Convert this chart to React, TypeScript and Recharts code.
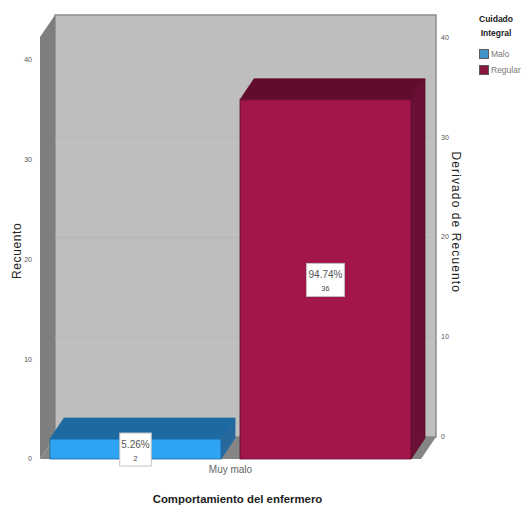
import { Bar, ComposedChart, LabelList, Legend, Line, ReferenceArea, XAxis, YAxis } from "recharts";

const categories = ["Muy malo"];
const maloCounts = [2];
const regularCounts = [36];
const maloPercents = ["5.26%"];
const regularPercents = ["94.74%"];
const axisTicks = [0, 10, 20, 30, 40];
const gridValues = [10, 20, 30];

const chartData = categories.map((name, i) => ({
  name,
  Malo: maloCounts[i],
  Regular: regularCounts[i],
}));

// Upper end of the value axis, where the side wall stops
const AXIS_MAX = 42.3;

// Depth of the fake 3D projection
const WALL_DX = 15;
const WALL_DY = 22;
const BAR_DX = 14;
const BAR_DY = 21;

const FONT = '"Liberation Sans", Arial, sans-serif';

const pts = (list: number[][]) => list.map((p) => p.join(",")).join(" ");

const Walls = ({ x, y, width, height }: any) => {
  const b = y + height;
  const r = x + width;
  return (
    <g>
      <rect x={x + WALL_DX} y={y - WALL_DY} width={width} height={height} fill="#bebebe" stroke="#8c8c8c" strokeWidth={1.5} />
      {gridValues.map((v) => {
        const gy = b - (v / AXIS_MAX) * height - WALL_DY;
        return <line key={v} x1={x + WALL_DX} x2={r + WALL_DX} y1={gy} y2={gy} stroke="#b6b6b6" />;
      })}
      <polygon points={pts([[x, y], [x + WALL_DX, y - WALL_DY], [x + WALL_DX, b - WALL_DY], [x, b]])} fill="#7e7e7e" />
      <polygon points={pts([[x, b], [x + WALL_DX, b - WALL_DY], [r + WALL_DX, b - WALL_DY], [r, b]])} fill="#858585" />
    </g>
  );
};

const box3d = (front: string, top: string, side: string) => ({ x, y, width, height }: any) => {
  const r = x + width;
  const b = y + height;
  return (
    <g stroke={top} strokeWidth={0.8}>
      <polygon points={pts([[x, y], [x + BAR_DX, y - BAR_DY], [r + BAR_DX, y - BAR_DY], [r, y]])} fill={top} />
      <polygon points={pts([[r, y], [r + BAR_DX, y - BAR_DY], [r + BAR_DX, b - BAR_DY], [r, b]])} fill={side} />
      <rect x={x} y={y} width={width} height={height} fill={front} />
    </g>
  );
};

const valueBox = (percents: string[], counts: number[]) => ({ x, y, width, height, index }: any) => {
  const cx = x + width / 2;
  const cy = y + height / 2;
  const boxW = percents[index].length * 6.3;
  return (
    <g fontFamily={FONT} textAnchor="middle">
      <rect x={cx - boxW / 2} y={cy - 16} width={boxW} height={33} fill="#ffffff" stroke="#c4c4c4" />
      <text x={cx} y={cy - 1} fontSize={10} fill="#555555">{percents[index]}</text>
      <text x={cx} y={cy + 12} fontSize={7} fill="#444444">{counts[index]}</text>
    </g>
  );
};

// The right hand axis sits on the back plane, so its ticks follow the wall offset
const renderRightTick = ({ y, payload }: any) => (
  <text x={441} y={y - WALL_DY + 2} fontSize={7} fontFamily={FONT} fill="#555555">{payload.value}</text>
);

const LegendBlock = ({ payload }: any) => {
  // The helper line on the right axis shares its name with the Regular bars
  const items = (payload || []).filter((item: any, i: number, all: any[]) => all.findIndex((o) => o.value === item.value) === i);
  return (
    <div style={{ width: 42, fontFamily: FONT }}>
      <div style={{ width: 34, fontSize: 8.5, fontWeight: 700, lineHeight: "14px", textAlign: "center", color: "#222222" }}>
        Cuidado
        <br />
        Integral
      </div>
      <div style={{ height: 6 }} />
      {items.map((item: any) => (
        <div key={item.value} style={{ display: "flex", alignItems: "center", height: 16, fontSize: 8.5, color: "#777777" }}>
          <span style={{ width: 10, height: 10, marginRight: 2, flexShrink: 0, background: item.value === "Malo" ? "#3f93c9" : "#8b1640", border: "1px solid #5c5c5c", boxSizing: "border-box" }} />
          {item.value}
        </div>
      ))}
    </div>
  );
};

export default function App() {
  return (
    <div style={{ position: "absolute", left: 0, top: 0 }}>
      <ComposedChart
        width={521}
        height={506}
        data={chartData}
        margin={{ top: 37, right: 18, bottom: 0, left: 20 }}
        barSize={171}
        barGap={19}
      >
        <XAxis
          dataKey="name"
          height={47}
          axisLine={false}
          tickLine={false}
          tick={{ fontSize: 10, fill: "#666666", fontFamily: FONT }}
          tickMargin={1}
          label={{ value: "Comportamiento del enfermero", position: "insideBottom", offset: 3, dx: 7, fontSize: 11.4, fontWeight: 700, fill: "#222222", fontFamily: FONT }}
        />
        <YAxis
          yAxisId="left"
          width={20}
          domain={[0, AXIS_MAX]}
          ticks={axisTicks}
          axisLine={false}
          tickLine={false}
          tickMargin={2}
          tick={{ fontSize: 7, fill: "#555555", fontFamily: FONT }}
          label={{ value: "Recuento", angle: -90, position: "insideLeft", offset: -3, dy: 31, fontSize: 12, letterSpacing: 0.6, fill: "#222222", fontFamily: FONT }}
        />
        <YAxis
          yAxisId="right"
          orientation="right"
          width={40}
          domain={[0, AXIS_MAX]}
          ticks={axisTicks}
          axisLine={false}
          tickLine={false}
          tick={renderRightTick}
          label={{ value: "Derivado de Recuento", angle: 90, position: "insideRight", offset: 0, dy: 45, dx: -5, fontSize: 12, letterSpacing: 1.1, fill: "#222222", fontFamily: FONT }}
        />
        <ReferenceArea yAxisId="left" y1={0} y2={AXIS_MAX} ifOverflow="visible" shape={<Walls />} />
        <Bar yAxisId="left" dataKey="Malo" isAnimationActive={false} fill="#3f93c9" shape={box3d("#2ea3f2", "#1d6aa3", "#27699c")}>
          <LabelList dataKey="Malo" content={valueBox(maloPercents, maloCounts)} />
        </Bar>
        <Bar yAxisId="left" dataKey="Regular" isAnimationActive={false} fill="#8b1640" shape={box3d("#a2164c", "#620b2d", "#6a1036")}>
          <LabelList dataKey="Regular" content={valueBox(regularPercents, regularCounts)} />
        </Bar>
        {/* keeps the secondary axis bound to a series so its ticks get drawn */}
        <Line yAxisId="right" dataKey="Regular" stroke="none" fill="none" dot={false} activeDot={false} legendType="none" isAnimationActive={false} />
        <Legend
          layout="vertical"
          align="right"
          verticalAlign="top"
          content={<LegendBlock />}
          wrapperStyle={{ position: "absolute", left: 479, top: 12, width: 42 }}
        />
      </ComposedChart>
    </div>
  );
}
